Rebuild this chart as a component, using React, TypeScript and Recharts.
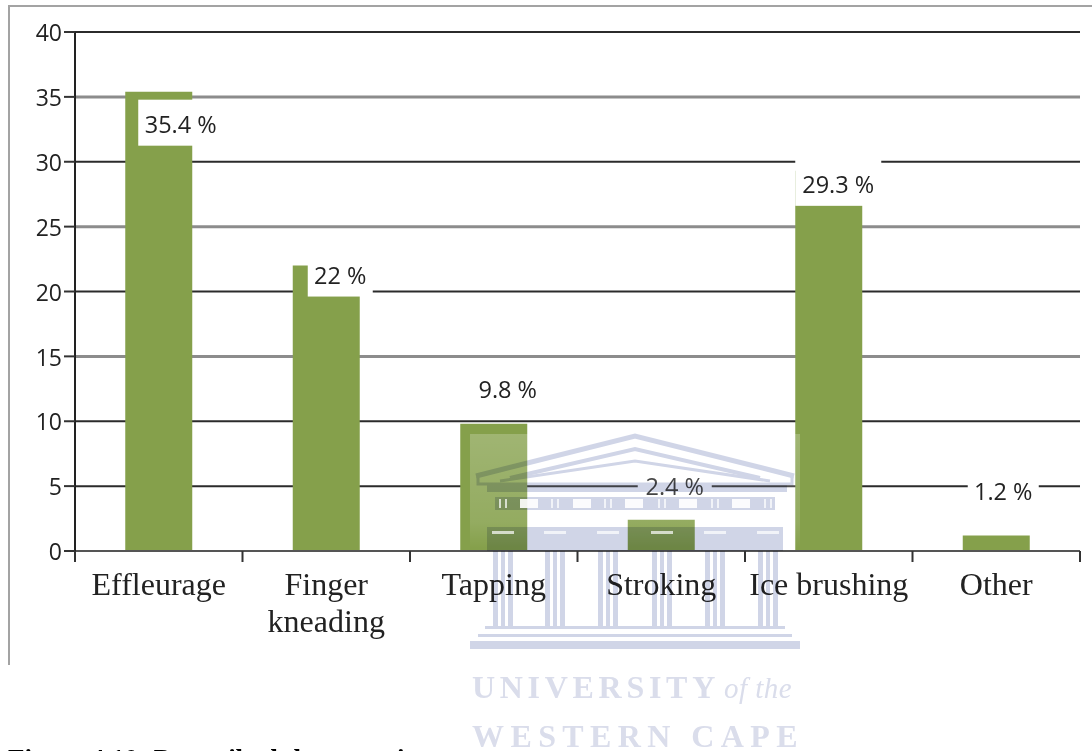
import { Bar, BarChart, CartesianGrid, LabelList, XAxis, YAxis } from "recharts";

const categories = ["Effleurage", "Finger kneading", "Tapping", "Stroking", "Ice brushing", "Other"];
const shares = [35.4, 22, 9.8, 2.4, 29.3, 1.2];
const shareLabels = ["35.4 %", "22 %", "9.8 %", "2.4 %", "29.3 %", "1.2 %"];
const yTicks = [0, 5, 10, 15, 20, 25, 30, 35, 40];
const darkGridValues = [40, 30, 20, 10, 5];
const greyGridValues = [35, 25, 15];
const tickLines = [["Effleurage"], ["Finger", "kneading"], ["Tapping"], ["Stroking"], ["Ice brushing"], ["Other"]];

const data = categories.map((name, i) => ({ name, share: shares[i], label: shareLabels[i] }));

const BAND = 167.5;
const BAR_GREEN = "#85A04B";
const WASH = "#D0D5E7";
const COLUMN_X = [503, 555, 608, 662, 715, 768];
const WINDOW_X = [529, 582, 634, 688, 741];

// label boxes sit wherever the original put them, relative to each bar's top-left
const labelBoxes = [
  { dx: 13, dy: 8, w: 85, h: 46 },
  { dx: 15, dy: -14, w: 65, h: 45 },
  { dx: 12, dy: -59, w: 71, h: 47 },
  { dx: 10, dy: -57, w: 74, h: 45 },
  { dx: 0, dy: -11, w: 86, h: 46 },
  { dx: 5, dy: -68, w: 71, h: 46 },
];

function BarLabel({ x, y, index, value }: any) {
  const box = labelBoxes[index];
  const bx = x + box.dx;
  const by = y + box.dy;
  return (
    <g>
      <rect x={bx} y={by} width={box.w} height={box.h} fill="#fff" />
      <text
        x={bx + box.w / 2}
        y={by + box.h / 2 + 10}
        textAnchor="middle"
        fontFamily="'Open Sans', sans-serif"
        fontSize={23.5}
        fill="#222"
      >
        {value}
      </text>
    </g>
  );
}

function CategoryTick({ x, y, index }: any) {
  const lines = tickLines[index];
  return (
    <g>
      <line x1={x - BAND / 2} x2={x - BAND / 2} y1={y} y2={y + 11} stroke="#333" strokeWidth={2} />
      {index === categories.length - 1 && (
        <line x1={x + BAND / 2} x2={x + BAND / 2} y1={y} y2={y + 11} stroke="#333" strokeWidth={2} />
      )}
      <text textAnchor="middle" fontFamily="'Liberation Serif', serif" fontSize={32} fill="#222">
        {lines.map((line, i) => (
          <tspan key={line} x={x} y={y + 44 + i * 37}>
            {line}
          </tspan>
        ))}
      </text>
    </g>
  );
}

function Watermark() {
  return (
    <svg
      width={1092}
      height={751}
      style={{ position: "absolute", left: 0, top: 0, pointerEvents: "none" }}
    >
      <defs>
        <linearGradient id="wash" x1="0" y1="0" x2="0" y2="1">
          <stop offset="0" stopColor="#fff" stopOpacity={0.22} />
          <stop offset="0.28" stopColor="#fff" stopOpacity={0.12} />
          <stop offset="0.36" stopColor="#fff" stopOpacity={0} />
        </linearGradient>
      </defs>
      <rect x={470} y={434} width={330} height={317} fill="url(#wash)" />
      <g style={{ mixBlendMode: "multiply" }}>
        <polyline fill="none" stroke={WASH} strokeWidth={5} points="476,476 635,436 794,476" />
        <polyline fill="none" stroke={WASH} strokeWidth={4} points="510,478 635,449 760,478" />
        <polyline fill="none" stroke={WASH} strokeWidth={3} points="478,477 478,484 792,484 792,477" />
        <polyline fill="none" stroke={WASH} strokeWidth={3} points="500,481 635,461 770,481" />
        <rect x={487} y={485} width={300} height={7} fill={WASH} />
        <rect x={495} y={497} width={280} height={13} fill={WASH} />
        <rect x={487} y={527} width={296} height={24} fill={WASH} />
        {COLUMN_X.map((cx) => (
          <g key={cx}>
            <rect x={cx - 10} y={537} width={5} height={90} fill={WASH} />
            <rect x={cx - 2} y={537} width={4} height={90} fill={WASH} />
            <rect x={cx + 5} y={537} width={5} height={90} fill={WASH} />
          </g>
        ))}
        <rect x={485} y={626} width={300} height={3} fill={WASH} />
        <rect x={478} y={634} width={314} height={3} fill={WASH} />
        <rect x={470} y={641} width={330} height={8} fill={WASH} />
      </g>
      {WINDOW_X.map((wx) => (
        <rect key={wx} x={wx - 9} y={499} width={18} height={9} fill="#fff" opacity={0.9} />
      ))}
      {COLUMN_X.map((cx) => (
        <g key={cx}>
          <rect x={cx - 4} y={499} width={2} height={9} fill="#fff" opacity={0.7} />
          <rect x={cx + 2} y={499} width={2} height={9} fill="#fff" opacity={0.7} />
          <rect x={cx - 11} y={531} width={22} height={3} fill="#fff" opacity={0.7} />
        </g>
      ))}
      <text
        x={472}
        y={698}
        fontFamily="'Liberation Serif', serif"
        fontSize={32}
        fontWeight={700}
        letterSpacing={4.7}
        fill="#DADDEB"
      >
        UNIVERSITY
        <tspan fontStyle="italic" fontWeight={400} fontSize={29} letterSpacing={0.5} dx={4}>
          of the
        </tspan>
      </text>
      <text
        x={472}
        y={747}
        fontFamily="'Liberation Serif', serif"
        fontSize={32}
        fontWeight={700}
        letterSpacing={6.4}
        fill="#DADDEB"
      >
        WESTERN CAPE
      </text>
    </svg>
  );
}

export default function App() {
  return (
    <div
      style={{
        position: "fixed",
        left: 0,
        top: 0,
        width: 1092,
        height: 751,
        overflow: "hidden",
        background: "#fff",
      }}
    >
      <div
        style={{
          position: "absolute",
          left: 8,
          top: 5,
          width: 1084,
          height: 660,
          borderLeft: "2px solid #A3A3A3",
          borderTop: "2px solid #A3A3A3",
          boxSizing: "border-box",
        }}
      />
      <div style={{ position: "absolute", left: 0, top: 0 }}>
        <BarChart
          width={1092}
          height={700}
          data={data}
          margin={{ top: 32, right: 12, bottom: 89, left: 0 }}
          barCategoryGap="30%"
        >
          <CartesianGrid vertical={false} horizontalValues={greyGridValues} stroke="#8C8C8C" strokeWidth={3} />
          <CartesianGrid vertical={false} horizontalValues={darkGridValues} stroke="#2B2B2B" strokeWidth={2} />
          <XAxis
            dataKey="name"
            height={60}
            interval={0}
            tick={CategoryTick}
            tickLine={false}
            tickSize={0}
            tickMargin={0}
            axisLine={{ stroke: "#555", strokeWidth: 2 }}
          />
          <YAxis
            width={75}
            domain={[0, 40]}
            ticks={yTicks}
            interval={0}
            tickSize={11}
            tickMargin={2}
            tick={{ fontFamily: "'Open Sans', sans-serif", fontSize: 23, fill: "#222", dy: 1 }}
            tickLine={{ stroke: "#333", strokeWidth: 2 }}
            axisLine={{ stroke: "#222", strokeWidth: 2 }}
          />
          <YAxis
            yAxisId="frame"
            orientation="right"
            width={0}
            domain={[0, 40]}
            tick={false}
            tickLine={false}
            axisLine={{ stroke: "#BDBDBD", strokeWidth: 2 }}
          />
          <Bar dataKey="share" fill={BAR_GREEN} isAnimationActive={false}>
            <LabelList dataKey="label" content={BarLabel} />
          </Bar>
        </BarChart>
      </div>
      <div
        style={{
          position: "absolute",
          left: 8,
          top: 744,
          fontFamily: "'Liberation Serif', serif",
          fontSize: 27,
          fontWeight: 700,
          lineHeight: "30px",
          color: "#000",
          whiteSpace: "nowrap",
        }}
      >
        Figure 4.10: Prescribed therapeutic
      </div>
      <Watermark />
    </div>
  );
}
